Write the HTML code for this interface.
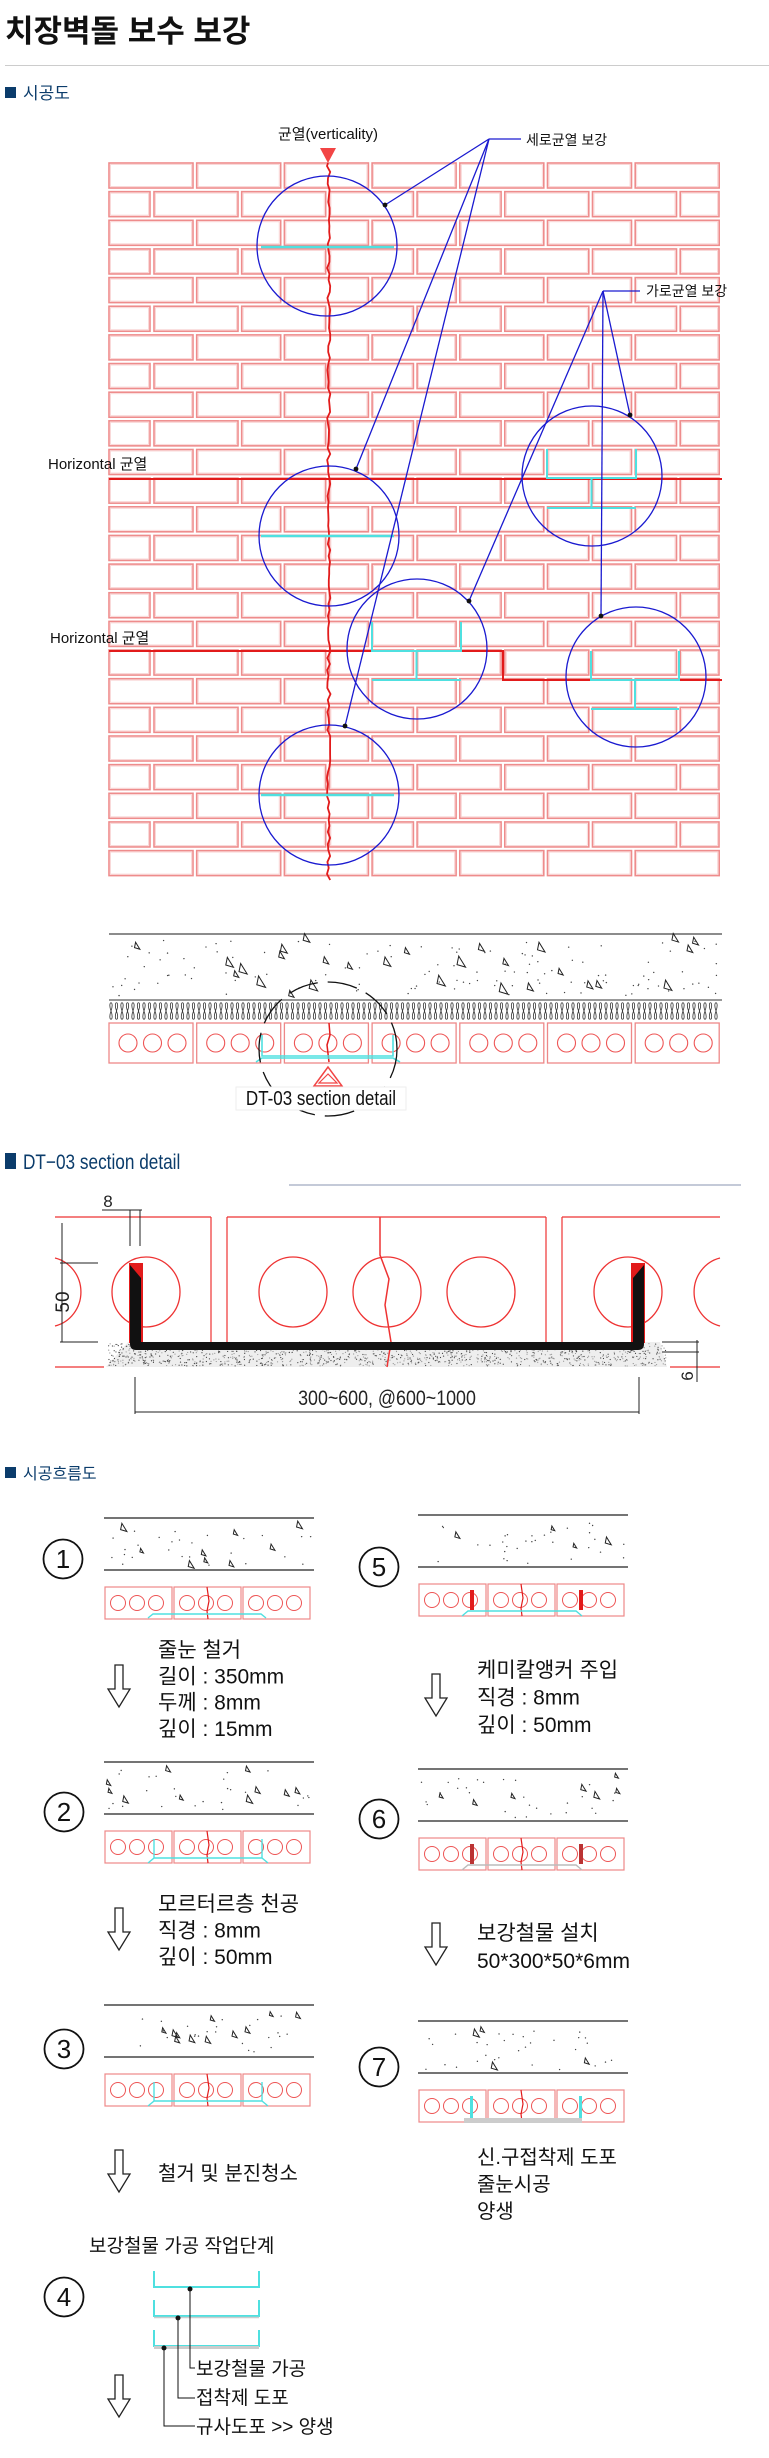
<!DOCTYPE html>
<html><head><meta charset="utf-8">
<style>
html,body{margin:0;padding:0;background:#fff;width:769px;height:2458px;overflow:hidden}
svg{display:block}
text{font-family:"Liberation Sans","Noto Sans CJK KR",sans-serif}
</style></head>
<body>
<svg id="s" width="769" height="2458" viewBox="0 0 769 2458" xmlns="http://www.w3.org/2000/svg">
<text x="5" y="42" font-size="31" font-weight="bold" fill="#111">치장벽돌 보수 보강</text>
<line x1="5" y1="65.5" x2="769" y2="65.5" stroke="#ccc" stroke-width="1"/>
<rect x="5" y="87" width="11" height="11" fill="#0b3c6b"/>
<text x="23" y="99" font-size="17" fill="#0b3c6b">시공도</text>
<g id="wall"></g>
<text x="328" y="139" font-size="15" text-anchor="middle" fill="#111">균열(verticality)</text>
<polygon points="320,148 336,148 328,163" fill="#f24545"/>
<text x="526" y="145" font-size="14" fill="#111">세로균열 보강</text>
<text x="646" y="296" font-size="14" fill="#111">가로균열 보강</text>
<text x="48" y="469" font-size="15" fill="#111">Horizontal 균열</text>
<text x="50" y="643" font-size="15" fill="#111">Horizontal 균열</text>
<g id="sect"></g>
<rect x="236" y="1087" width="170" height="23" fill="#fff" stroke="#eee"/>
<text x="321" y="1105" font-size="20" text-anchor="middle" fill="#111" transform="translate(321 0) scale(0.85 1) translate(-321 0)">DT-03 section detail</text>
<rect x="5" y="1153" width="11" height="16" fill="#0b3c6b"/>
<text x="23" y="1169" font-size="21" fill="#0b3c6b" transform="translate(23 0) scale(0.82 1) translate(-23 0)">DT−03 section  detail</text>
<line x1="289" y1="1185" x2="741" y2="1185" stroke="#8a95b0" stroke-width="1"/>
<g id="det"></g>
<rect x="5" y="1467" width="11" height="11" fill="#0b3c6b"/>
<text x="23" y="1479" font-size="16" fill="#0b3c6b">시공흐름도</text>
<g id="flow"></g>
</svg>
<script>
var NS="http://www.w3.org/2000/svg";
function el(p,t,a,txt){var e=document.createElementNS(NS,t);for(var k in a)e.setAttribute(k,a[k]);if(txt!==undefined)e.textContent=txt;document.getElementById(p).appendChild(e);return e;}
var seed=7;function rnd(){seed=(seed*16807)%2147483647;return seed/2147483647;}
(function(){
var L=109,R=719,pitch=87.7,bw=84,P=28.65,H=25;
for(var i=0;i<25;i++){var y=163+i*P;
 var xs=[];
 if(i%2==0){for(var k=0;k<7;k++)xs.push([L+k*pitch,bw]);}
 else{xs.push([L,41]);for(var k=0;k<7;k++){var x=L+45+k*pitch;xs.push([x,Math.min(bw,R-x)]);}}
 xs.forEach(function(b){if(b[1]<3)return;
  el("wall","rect",{x:b[0],y:y,width:b[1],height:H,fill:"none",stroke:"#ee8c8c","stroke-width":1.6});
  el("wall","rect",{x:b[0]+1.5,y:y+1.5,width:b[1]-3,height:H-3,fill:"none",stroke:"#f8d0d0","stroke-width":0.8});
 });
}
var d="M328 163";for(var y=166;y<=880;y+=6){d+=" L"+(327+rnd()*3.5).toFixed(1)+" "+y;}
el("wall","path",{d:d,fill:"none",stroke:"#e21b1b","stroke-width":1.8});
el("wall","line",{x1:109,y1:479,x2:722,y2:479,stroke:"#e21b1b","stroke-width":2});
el("wall","path",{d:"M109 651 L503 651 L503 680 L722 680",fill:"none",stroke:"#e21b1b","stroke-width":2});
[247,536,795].forEach(function(y){el("wall","line",{x1:261,y1:y,x2:394,y2:y,stroke:"#4fe0e0","stroke-width":2.5});});
function hz(a,b,top,mid,bot){var cx=(a+b)/2;
 el("wall","path",{d:"M"+a+" "+top+" L"+a+" "+mid+" L"+b+" "+mid+" L"+b+" "+top+" M"+cx+" "+mid+" L"+cx+" "+bot+" M"+a+" "+bot+" L"+b+" "+bot,fill:"none",stroke:"#4fe0e0","stroke-width":2});}
hz(547,636,449,478,508);hz(372,461,622,651,680);hz(591,679,651,680,709);
[[327,246],[329,536],[417,649],[592,476],[636,677],[329,795]].forEach(function(c){
 el("wall","ellipse",{cx:c[0],cy:c[1],rx:70,ry:70,fill:"none",stroke:"#1a1ad0","stroke-width":1.3});});
el("wall","line",{x1:489,y1:139,x2:521,y2:139,stroke:"#1a1ad0","stroke-width":1.3});
el("wall","line",{x1:603,y1:291,x2:640,y2:291,stroke:"#1a1ad0","stroke-width":1.3});
[[489,139,385,205],[489,139,356,469],[489,139,345,726],[603,291,630,415],[603,291,601,616],[603,291,469,601]].forEach(function(l){
 el("wall","line",{x1:l[0],y1:l[1],x2:l[2],y2:l[3],stroke:"#1a1ad0","stroke-width":1.3});
 el("wall","circle",{cx:l[2],cy:l[3],r:2.4,fill:"#111"});});
})();
function concrete(g,x0,x1,y0,y1,n,sz){
 for(var i=0;i<n;i++){var x=x0+rnd()*(x1-x0),y=y0+rnd()*(y1-y0);
  if(rnd()<0.2){var s=sz*(0.7+rnd()*0.6);el(g,"polygon",{points:x+","+y+" "+(x+s)+","+(y+s*0.3)+" "+(x+s*0.2)+","+(y-s),fill:"none",stroke:"#222","stroke-width":1});}
  else el(g,"circle",{cx:x,cy:y,r:0.7,fill:"#444"});}
}
(function(){
el("sect","line",{x1:109,y1:934,x2:722,y2:934,stroke:"#666","stroke-width":1.5});
concrete("sect",112,720,940,996,150,7);
var d="";for(var x=111;x<721;x+=5.5){d+="M"+x+" 1011 C"+(x-4)+" 1000 "+(x+4)+" 1000 "+x+" 1011 C"+(x-4)+" 1022 "+(x+4)+" 1022 "+x+" 1011 ";}
el("sect","line",{x1:109,y1:1000,x2:722,y2:1000,stroke:"#333","stroke-width":1});
el("sect","path",{d:d,fill:"none",stroke:"#333","stroke-width":0.8});
for(var k=0;k<7;k++){var x=109+k*87.7;
 el("sect","rect",{x:x,y:1023,width:84,height:40,fill:"none",stroke:"#e88","stroke-width":1.3});
 for(var j=0;j<3;j++)el("sect","ellipse",{cx:x+19+j*24.5,cy:1043,rx:9,ry:9,fill:"none",stroke:"#e55","stroke-width":1.1});}
el("sect","path",{d:"M329 1023 L330 1035 L327 1045 L329 1062",fill:"none",stroke:"#e21b1b","stroke-width":1.5});
el("sect","path",{d:"M262 1035 L262 1056 L393 1056 L393 1035 M256 1062 L262 1058 L393 1058 L400 1062",fill:"none",stroke:"#4fe0e0","stroke-width":1.6});
el("sect","ellipse",{cx:328,cy:1049,rx:69,ry:67,fill:"none",stroke:"#111","stroke-width":1.3,"stroke-dasharray":"30 10"});
el("sect","polygon",{points:"328,1067 314,1086 342,1086",fill:"none",stroke:"#f24545","stroke-width":1.5});
el("sect","polygon",{points:"328,1074 319,1083 337,1083",fill:"none",stroke:"#f24545","stroke-width":1.2});
})();
(function(){
var g="det",R="#e33";
el(g,"line",{x1:55,y1:1217,x2:211,y2:1217,stroke:R,"stroke-width":1.3});
el(g,"line",{x1:227,y1:1217,x2:546,y2:1217,stroke:R,"stroke-width":1.3});
el(g,"line",{x1:562,y1:1217,x2:720,y2:1217,stroke:R,"stroke-width":1.3});
[211,227,546,562].forEach(function(x){el(g,"line",{x1:x,y1:1217,x2:x,y2:1367,stroke:R,"stroke-width":1.2});});
el(g,"line",{x1:55,y1:1367,x2:104,y2:1367,stroke:R,"stroke-width":1.3});
el(g,"line",{x1:670,y1:1367,x2:720,y2:1367,stroke:R,"stroke-width":1.3});
el(g,"polygon",{points:"128,1342 660,1342 667,1367 106,1367",fill:"#eee"});
for(var i=0;i<1300;i++){el(g,"circle",{cx:108+rnd()*558,cy:1343+rnd()*23,r:0.6,fill:rnd()<0.5?"#444":"#999"});}
[146,293,387,481,628].forEach(function(x){el(g,"ellipse",{cx:x,cy:1292,rx:34,ry:35,fill:"none",stroke:R,"stroke-width":1.3});});
el(g,"path",{d:"M55 1258 A34 35 0 0 1 55 1326",fill:"none",stroke:R,"stroke-width":1.3});
el(g,"path",{d:"M720 1258 A34 35 0 0 0 720 1326",fill:"none",stroke:R,"stroke-width":1.3});
el(g,"path",{d:"M380 1217 L380 1255 L389 1279 L385 1305 L391 1342 L387 1367",fill:"none",stroke:R,"stroke-width":1.5});
el(g,"rect",{x:129,y:1263,width:14,height:80,fill:"#e21b1b"});
el(g,"rect",{x:631,y:1263,width:14,height:80,fill:"#e21b1b"});
el(g,"path",{d:"M130 1265 L141 1278 L141 1342 L633 1342 L633 1278 L644 1265 L644 1344 Q644 1350 638 1350 L136 1350 Q130 1350 130 1344 Z",fill:"#111"});
var K="#222";
el(g,"line",{x1:130,y1:1210,x2:130,y2:1246,stroke:K});el(g,"line",{x1:140,y1:1210,x2:140,y2:1246,stroke:K});
el(g,"line",{x1:102,y1:1210,x2:142,y2:1210,stroke:K});
el(g,"text",{x:108,y:1207,"font-size":17,"text-anchor":"middle",fill:K},"8");
el(g,"line",{x1:62,y1:1223,x2:62,y2:1342,stroke:K});
el(g,"line",{x1:60,y1:1263,x2:98,y2:1263,stroke:K});el(g,"line",{x1:60,y1:1342,x2:98,y2:1342,stroke:K});
el(g,"text",{x:62,y:1302,"font-size":19,"text-anchor":"middle",fill:K,transform:"rotate(-90 62 1302) translate(0 7)"},"50");
el(g,"line",{x1:697,y1:1340,x2:697,y2:1382,stroke:K});
el(g,"line",{x1:662,y1:1342,x2:699,y2:1342,stroke:K});el(g,"line",{x1:662,y1:1352,x2:699,y2:1352,stroke:K});
el(g,"text",{x:687,y:1376,"font-size":17,"text-anchor":"middle",fill:K,transform:"rotate(-90 687 1376) translate(0 6)"},"6");
el(g,"line",{x1:135,y1:1412,x2:639,y2:1412,stroke:K});
el(g,"line",{x1:135,y1:1377,x2:135,y2:1414,stroke:K});el(g,"line",{x1:639,y1:1377,x2:639,y2:1414,stroke:K});
el(g,"text",{x:387,y:1405,"font-size":21,"text-anchor":"middle",fill:K,transform:"translate(387 0) scale(0.85 1) translate(-387 0)"},"300~600, @600~1000");
})();
function step(x0,top,num,ny,nx,mode){
 var g="flow",w=210;
 el(g,"line",{x1:x0,y1:top,x2:x0+w,y2:top,stroke:"#222","stroke-width":1.2});
 el(g,"line",{x1:x0,y1:top+52,x2:x0+w,y2:top+52,stroke:"#222","stroke-width":1.2});
 concrete(g,x0+2,x0+w-2,top+8,top+49,35,5);
 var by=top+69,bh=32;
 for(var k=0;k<3;k++){var x=x0+k*69;
  el(g,"rect",{x:x+1,y:by,width:67,height:bh,fill:"none",stroke:"#e88","stroke-width":1.2});
  for(var j=0;j<3;j++)el(g,"ellipse",{cx:x+14+j*19,cy:by+16,rx:7.5,ry:7.5,fill:"none",stroke:"#e55","stroke-width":1});}
 el(g,"path",{d:"M"+(x0+103)+" "+by+" L"+(x0+105)+" "+(by+14)+" L"+(x0+103)+" "+(by+24)+" L"+(x0+104)+" "+(by+bh),fill:"none",stroke:"#e21b1b","stroke-width":1.2});
 var b=by+bh;
 function T(dd,c){el(g,"path",{d:dd,transform:"translate("+x0+" 0)",fill:"none",stroke:c,"stroke-width":1.4});}
 if(mode=="cyan1")T("M44 "+(b-1)+" L49 "+(b-5)+" L157 "+(b-5)+" L162 "+(b-1),"#4fe0e0");
 if(mode=="cyan2")T("M44 "+b+" L50 "+(b-5)+" L50 "+(b-24)+" M50 "+(b-5)+" L158 "+(b-5)+" L158 "+(b-24)+" M158 "+(b-5)+" L164 "+b,"#4fe0e0");
 if(mode=="red"||mode=="red2"){
  T("M44 "+b+" L50 "+(b-5)+" L158 "+(b-5)+" L164 "+b,mode=="red"?"#4fe0e0":"#bbb");
  el(g,"rect",{x:x0+52,y:by+6,width:4,height:20,fill:mode=="red"?"#e21b1b":"#b33"});
  el(g,"rect",{x:x0+161,y:by+6,width:4,height:20,fill:mode=="red"?"#e21b1b":"#b33"});}
 if(mode=="final"){el(g,"rect",{x:x0+46,y:b-4,width:118,height:5,fill:"#ccc"});
  el(g,"rect",{x:x0+52,y:by+6,width:3,height:22,fill:"#4fe0e0"});el(g,"rect",{x:x0+161,y:by+6,width:3,height:22,fill:"#4fe0e0"});}
 el(g,"circle",{cx:nx,cy:ny,r:19.5,fill:"none",stroke:"#111","stroke-width":1.8});
 el(g,"text",{x:nx,y:ny+9,"font-size":26,"text-anchor":"middle",fill:"#111"},num);
}
function arrow(x,y){el("flow","path",{d:"M"+(x-4)+" "+y+" L"+(x+4)+" "+y+" L"+(x+4)+" "+(y+24)+" L"+(x+11)+" "+(y+24)+" L"+x+" "+(y+42)+" L"+(x-11)+" "+(y+24)+" L"+(x-4)+" "+(y+24)+" Z",fill:"none",stroke:"#222","stroke-width":1.3});}
function txt(x,y,lines,fs,gap){lines.forEach(function(s,i){el("flow","text",{x:x,y:y+i*gap,"font-size":fs,fill:"#111"},s);});}
step(104,1518,"1",1559,63,"cyan1");
step(104,1762,"2",1812,64,"cyan2");
step(104,2005,"3",2049,64,"cyan2");
step(418,1515,"5",1567,379,"red");
step(418,1769,"6",1819,379,"red2");
step(418,2021,"7",2067,379,"final");
arrow(119,1665);arrow(119,1908);arrow(119,2150);arrow(119,2375);
arrow(436,1674);arrow(436,1923);
txt(158,1657,["줄눈 철거","길이 : 350mm","두께 : 8mm","깊이 : 15mm"],21,26.3);
txt(158,1911,["모르터르층 천공","직경 : 8mm","깊이 : 50mm"],21,26.5);
txt(158,2180,["철거 및 분진청소"],20,20);
txt(89,2252,["보강철물 가공 작업단계"],19,20);
txt(477,1677,["케미칼앵커 주입","직경 : 8mm","깊이 : 50mm"],21,27.5);
txt(477,1940,["보강철물 설치","50*300*50*6mm"],21,28);
txt(477,2164,["신.구접착제 도포","줄눈시공","양생"],20,27);
el("flow","circle",{cx:64,cy:2297,r:19.5,fill:"none",stroke:"#111","stroke-width":1.8});
el("flow","text",{x:64,y:2306,"font-size":26,"text-anchor":"middle",fill:"#111"},"4");
[2271,2300,2330].forEach(function(y,i){
 el("flow","path",{d:"M154 "+y+" L154 "+(y+16)+" L259 "+(y+16)+" L259 "+y,fill:"none",stroke:"#4fe0e0","stroke-width":2});
 if(i>0)el("flow","line",{x1:154,y1:y+17.5,x2:259,y2:y+17.5,stroke:"#ccc","stroke-width":i==2?3:1.5});});
[[190,2289,2368],[178,2318,2398],[164,2348,2426]].forEach(function(p){
 el("flow","circle",{cx:p[0],cy:p[1],r:2.5,fill:"#111"});
 el("flow","path",{d:"M"+p[0]+" "+p[1]+" L"+p[0]+" "+p[2]+" L195 "+p[2],fill:"none",stroke:"#111","stroke-width":1});});
txt(196,2375,["보강철물 가공","접착제 도포","규사도포 >> 양생"],19,29);
</script>
</body></html>
